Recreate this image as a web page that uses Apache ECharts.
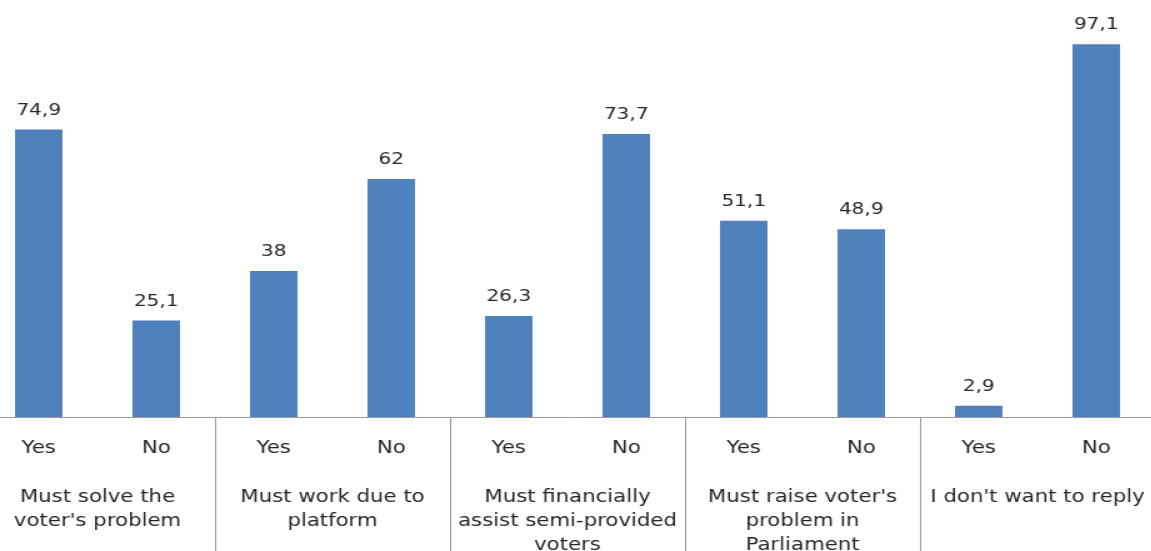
<!DOCTYPE html>
<html>
<head>
<meta charset="utf-8">
<script src="https://cdn.jsdelivr.net/npm/echarts@6/dist/echarts.min.js"></script>
<style>
  html, body { margin: 0; padding: 0; background: #fff; overflow: hidden; }
  /* chart is laid out narrower and widened horizontally */
  #chart { width: 920.8px; height: 551px; transform: scaleX(1.25); transform-origin: 0 0; }
</style>
</head>
<body>
<div id="chart"></div>
<script>
// Answers per question (percent)
const answers = ['Yes', 'No', 'Yes', 'No', 'Yes', 'No', 'Yes', 'No', 'Yes', 'No'];
const questions = [
  'Must solve the\nvoter\'s problem',
  'Must work due to\nplatform',
  'Must financially\nassist semi-provided\nvoters',
  'Must raise voter\'s\nproblem in\nParliament',
  'I don\'t want to reply'
];
const percents = [74.9, 25.1, 38, 62, 26.3, 73.7, 51.1, 48.9, 2.9, 97.1];
const percentLabels = ['74,9', '25,1', '38', '62', '26,3', '73,7', '51,1', '48,9', '2,9', '97,1'];

const chart = echarts.init(document.getElementById('chart'));
const font = 'DejaVu Sans';

chart.setOption({
  animation: false,
  backgroundColor: '#ffffff',
  grid: { left: -16, width: 940, top: 33, height: 384, containLabel: false, outerBoundsMode: 'none' },
  xAxis: [
    {
      type: 'category',
      data: answers,
      position: 'bottom',
      axisLine: { show: true, lineStyle: { color: '#9a9a9a', width: 1 } },
      axisTick: { show: false },
      axisLabel: { interval: 0, margin: 23, fontFamily: font, fontSize: 17, color: '#262626' }
    },
    {
      type: 'category',
      data: questions,
      position: 'bottom',
      axisLine: { show: false },
      axisTick: { show: true, interval: 0, length: 140, lineStyle: { color: '#9a9a9a', width: 1 } },
      axisLabel: { interval: 0, margin: 69, fontFamily: font, fontSize: 17, lineHeight: 24, color: '#262626', align: 'center' }
    }
  ],
  yAxis: {
    type: 'value',
    min: 0,
    max: 100,
    show: false,
    splitLine: { show: false }
  },
  series: [
    {
      type: 'bar',
      xAxisIndex: 0,
      data: percents,
      barWidth: 38,
      itemStyle: { color: '#4f81bd' },
      label: {
        show: true,
        position: 'top',
        distance: 11,
        fontFamily: font,
        fontSize: 16,
        color: '#262626',
        formatter: p => percentLabels[p.dataIndex]
      }
    }
  ]
});
</script>
</body>
</html>
